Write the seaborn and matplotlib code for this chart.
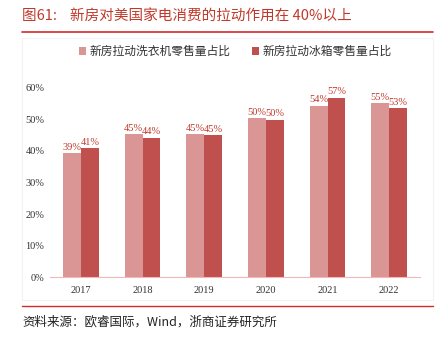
import matplotlib
matplotlib.use("Agg")
import matplotlib.pyplot as plt
import seaborn as sns
import pandas as pd
import numpy as np
from matplotlib.patches import Rectangle
from matplotlib.lines import Line2D

years = ["2017", "2018", "2019", "2020", "2021", "2022"]
washer = [39.2, 45.2, 45.2, 50.3, 54.2, 55.1]
fridge = [40.8, 44.1, 44.9, 49.8, 56.8, 53.4]
series_names = ["新房拉动洗衣机零售量占比", "新房拉动冰箱零售量占比"]
yticks = [0, 10, 20, 30, 40, 50, 60]

sns.set_theme(style="white")
fam = ["Liberation Serif", "Noto Sans CJK SC"]
plt.rcParams["font.family"] = fam

df = pd.DataFrame({
    "year": years * 2,
    "value": washer + fridge,
    "series": [series_names[0]] * len(years) + [series_names[1]] * len(years),
})

fig = plt.figure(figsize=(4.39, 3.40), dpi=100)
ax = fig.add_axes([0.114, 0.184, 0.843, 0.559])

colors = ["#D99694", "#C0504D"]
sns.barplot(data=df, x="year", y="value", hue="series", palette=colors,
            width=0.58, gap=0, ax=ax, saturation=1, edgecolor="none")

for cont in ax.containers:
    ax.bar_label(cont, labels=[f"{v:.0f}%" for v in cont.datavalues],
                 padding=1, fontsize=7.5, color="#C0392B")

ax.set_ylim(0, 60)
ax.set_yticks(yticks)
ax.set_yticklabels([f"{t}%" for t in yticks], fontsize=7.5, color="#333333")
ax.set_xlim(-0.5, len(years) - 0.5)
ax.tick_params(axis="x", length=0, labelsize=7.5, colors="#333333", pad=6)
ax.tick_params(axis="y", length=0, pad=4)
ax.set_xticks(np.arange(-0.5, len(years)), minor=True)
ax.tick_params(axis="x", which="minor", length=4, color="#F2B8B8", width=0.8)
ax.set_xlabel("")
ax.set_ylabel("")
for s in ["top", "right", "left"]:
    ax.spines[s].set_visible(False)
ax.spines["bottom"].set_color("#F2B8B8")
ax.spines["bottom"].set_linewidth(0.8)

leg = ax.legend(loc="center", bbox_to_anchor=(0.5, 1.185), ncol=2, frameon=False,
                fontsize=8.5, handlelength=0.6, handleheight=0.6, handletextpad=0.3,
                columnspacing=1.8)
for t in leg.get_texts():
    t.set_color("#333333")

# frame around chart area
fig.patches.append(Rectangle((22 / 439, 1 - 300 / 340), 411 / 439, 262 / 340,
                             transform=fig.transFigure, facecolor="none",
                             edgecolor="#F2F2F2", linewidth=0.8, zorder=0))
# red lines
fig.add_artist(Line2D([22 / 439, 433 / 439], [1 - 32 / 340] * 2, color="#D42A2A", lw=1.2,
                      transform=fig.transFigure))
fig.add_artist(Line2D([22 / 439, 433 / 439], [1 - 306 / 340] * 2, color="#D42A2A", lw=1.0,
                      transform=fig.transFigure))

fig.text(22 / 439, 1 - 16 / 340, "图61:    新房对美国家电消费的拉动作用在 40%以上", fontsize=10.5,
         color="#C0392B", va="center", ha="left", family=["Noto Sans CJK SC", "DejaVu Sans"])
fig.text(22 / 439, 1 - 322 / 340, "资料来源：欧睿国际，Wind，浙商证券研究所", fontsize=9,
         color="#222222", va="center", ha="left", family=["Noto Sans CJK SC", "DejaVu Sans"])

fig.savefig("out.png", dpi=100)
